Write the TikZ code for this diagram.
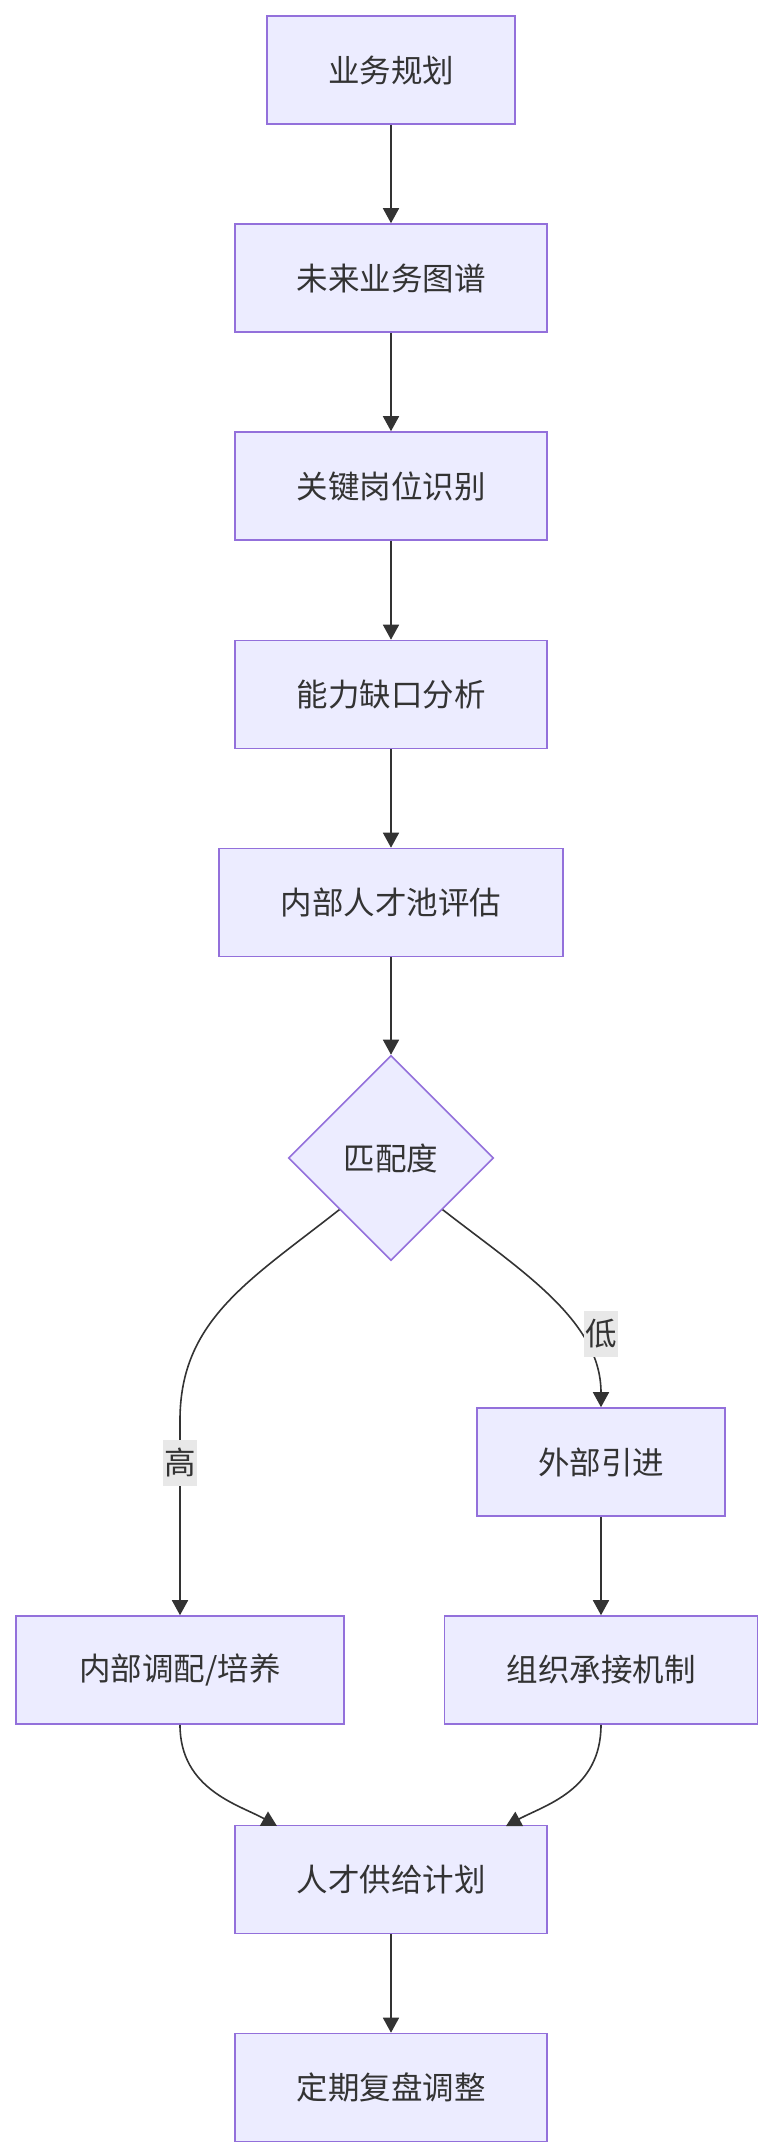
\documentclass[tikz,border=0pt]{standalone}
\usepackage{fontspec}
\setmainfont{Noto Sans CJK SC}
\usetikzlibrary{arrows.meta, shapes.geometric}
\definecolor{boxfill}{HTML}{ECECFF}
\definecolor{boxline}{HTML}{9370DB}
\definecolor{edgeline}{HTML}{333333}
\definecolor{labelbg}{HTML}{E8E8E8}
\begin{document}
\begin{tikzpicture}[
  x=1pt, y=-1pt,
  stepbox/.style={rectangle, draw=boxline, fill=boxfill, line width=1.6pt,
    minimum height=108pt, inner sep=0pt, text=edgeline,
    font=\fontsize{31.5}{36}\selectfont},
  decisionbox/.style={diamond, draw=boxline, fill=boxfill, line width=1.6pt,
    minimum width=205pt, minimum height=205pt, inner sep=0pt, text=edgeline,
    font=\fontsize{31.5}{36}\selectfont},
  edgelabel/.style={fill=labelbg, inner xsep=1pt, minimum height=46pt,
    text=edgeline, font=\fontsize{31.5}{36}\selectfont},
  arr/.style={-{Triangle[length=15pt, width=16pt]}, line width=1.6pt, edgeline}
]
\useasboundingbox (0,0) rectangle (772,2156);

% Main column
\node[stepbox, minimum width=248pt] (plan) at (391, 70) {业务规划};
\node[stepbox, minimum width=312pt] (map) at (391, 278) {未来业务图谱};
\node[stepbox, minimum width=312pt] (keypos) at (391, 486) {关键岗位识别};
\node[stepbox, minimum width=312pt] (gap) at (391, 694.5) {能力缺口分析};
\node[stepbox, minimum width=344pt] (pool) at (391, 902.5) {内部人才池评估};

\draw[arr] (plan.south) -- (map.north);
\draw[arr] (map.south) -- (keypos.north);
\draw[arr] (keypos.south) -- (gap.north);
\draw[arr] (gap.south) -- (pool.north);

% Decision
\node[decisionbox] (match) at (391, 1158) {匹配度};
\draw[arr] (pool.south) -- (match.north);

% Branches
\node[stepbox, minimum width=248pt] (external) at (601, 1462) {外部引进};
\node[stepbox, minimum width=328pt] (internal) at (180, 1670) {内部调配/培养};
\node[stepbox, minimum width=313pt] (org) at (601, 1670) {组织承接机制};

\draw[arr] (match.south west) .. controls (250, 1280) and (180, 1320) .. (180, 1420)
  -- node[edgelabel, pos=0.22] (high) {高} (internal.north);
\draw[arr] (match.south east) .. controls (520, 1270) and (601, 1320) .. (external.north);
\node[edgelabel] (low) at (601, 1334) {低};
\draw[arr] (external.south) -- (org.north);

% Merge
\node[stepbox, minimum width=312pt] (supply) at (391, 1879.5) {人才供给计划};
\node[stepbox, minimum width=312pt] (review) at (391, 2087.5) {定期复盘调整};

\draw[arr] (internal.south) .. controls (180, 1790) and (240, 1805) .. (277, 1826);
\draw[arr] (org.south) .. controls (601, 1790) and (545, 1805) .. (506, 1826);
\draw[arr] (supply.south) -- (review.north);

\end{tikzpicture}
\end{document}
